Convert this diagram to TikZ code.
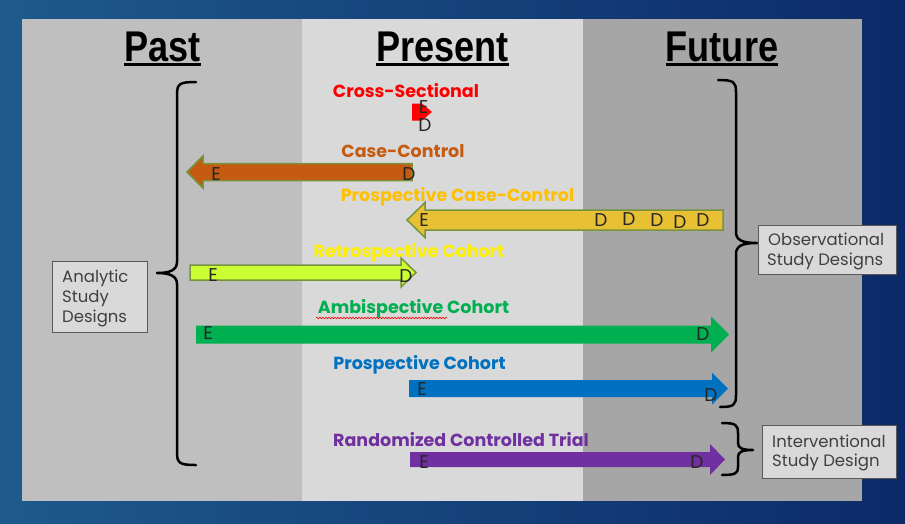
\documentclass[tikz,border=0pt]{standalone}
\usepackage{fontspec}
\usepackage{graphicx}
\usetikzlibrary{decorations.pathmorphing}
\newfontfamily\pop{Poppins}
\newfontfamily\hdr{Liberation Sans}
\definecolor{bgL}{HTML}{1E5A8C}
\definecolor{bgM}{HTML}{2C7CA0}
\definecolor{bgR}{HTML}{0C2A68}
\definecolor{colpast}{HTML}{BFBFBF}
\definecolor{colpres}{HTML}{D9D9D9}
\definecolor{colfut}{HTML}{A6A6A6}
\definecolor{olivebd}{HTML}{77933C}
\definecolor{ccbrown}{HTML}{C55A11}
\definecolor{pccgold}{HTML}{E8C033}
\definecolor{pcclabel}{HTML}{FFC000}
\definecolor{retrolime}{HTML}{CCFF33}
\definecolor{ambigreen}{HTML}{00B050}
\definecolor{pcblue}{HTML}{0070C0}
\definecolor{rctpurple}{HTML}{7030A0}
\definecolor{boxtext}{HTML}{404040}
\definecolor{boxborder}{HTML}{595959}
\definecolor{edtext}{HTML}{262626}
\newcommand\blockarr[7]{%
  \path[#7] ({#1},{#3-#4}) -- ({#2-#6},{#3-#4}) -- ({#2-#6},{#3-#5}) -- ({#2},{#3})
    -- ({#2-#6},{#3+#5}) -- ({#2-#6},{#3+#4}) -- ({#1},{#3+#4}) -- cycle;}
\tikzset{
  hdrtext/.style={anchor=base, inner sep=0pt, font=\hdr\bfseries\fontsize{43pt}{43pt}\selectfont, text=black},
  uline/.style={line width=2.5pt, black},
  studylabel/.style={anchor=base, inner sep=0pt, font=\pop\bfseries\fontsize{17.5pt}{20pt}\selectfont},
  edletter/.style={anchor=base, inner sep=0pt, font=\pop\fontsize{18.5pt}{20pt}\selectfont, text=edtext},
  sidebox/.style={draw=boxborder, line width=1pt, fill=colpres, anchor=north west, inner sep=0pt},
  boxline/.style={anchor=base west, inner sep=0pt, font=\pop\fontsize{16.5pt}{19pt}\selectfont, text=boxtext},
  bracestyle/.style={line width=2.5pt, black, line join=round, line cap=round},
  bordered/.style={draw=olivebd, line width=1.5pt, line join=miter},
}
\begin{document}
\begin{tikzpicture}[x=1pt,y=-1pt]
\useasboundingbox (0,0) rectangle (905,523);
% background
\shade[left color=bgL, middle color=bgM, right color=bgR] (0,0) rectangle (905,523);
% columns
\fill[colpast] (22,19) rectangle (302,501);
\fill[colpres] (302,19) rectangle (583,501);
\fill[colfut] (583,19) rectangle (862,501);
% headers
\node[hdrtext] (hpast) at (162.5,61) {\scalebox{0.84}[1]{Past}};
\node[hdrtext] (hpres) at (442.5,61) {\scalebox{0.84}[1]{Present}};
\node[hdrtext] (hfut) at (722,61) {\scalebox{0.84}[1]{Future}};
\draw[uline] ([yshift=-3.5pt]hpast.base west) -- ([yshift=-3.5pt]hpast.base east);
\draw[uline] ([yshift=-3.5pt]hpres.base west) -- ([yshift=-3.5pt]hpres.base east);
\draw[uline] ([yshift=-3.5pt]hfut.base west) -- ([yshift=-3.5pt]hfut.base east);
% braces
\draw[bracestyle] (196,82) .. controls (179,82) and (177,84) .. (177,95) -- (177,262)
  .. controls (177,270) and (170,273) .. (157,273) .. controls (170,273) and (177,276) .. (177,284)
  -- (177,452) .. controls (177,463) and (179,465) .. (196,465);
\draw[bracestyle] (718,80) .. controls (734,80) and (736,82) .. (736,92) -- (736,232)
  .. controls (736,240) and (742,243) .. (757,243) .. controls (742,243) and (736,246) .. (736,254)
  -- (736,395) .. controls (736,405) and (734,407) .. (720,407);
\draw[bracestyle] (722,423) .. controls (736,423) and (738,425) .. (738,433) -- (738,443)
  .. controls (738,448) and (742,450) .. (753,450) .. controls (742,450) and (738,452) .. (738,457)
  -- (738,467) .. controls (738,473) and (736,475) .. (722,475);
% side boxes
\node[sidebox, minimum width=95pt, minimum height=71pt] (analytic) at (52,261) {};
\node[boxline] (an1) at (62,282) {Analytic};
\node[boxline] (an2) at (62,302) {Study};
\node[boxline] (an3) at (62,322) {Designs};
\node[sidebox, minimum width=138pt, minimum height=49pt] (observ) at (758,225) {};
\node[boxline] (ob1) at (768,245) {Observational};
\node[boxline] (ob2) at (767,265) {Study Designs};
\node[sidebox, minimum width=134pt, minimum height=53pt] (interv) at (762,425) {};
\node[boxline] (in1) at (772,447) {Interventional};
\node[boxline] (in2) at (772,466) {Study Design};
% Cross-sectional
\node[studylabel, text=red] (lcs) at (406,97) {Cross-Sectional};
\blockarr{412}{432}{112}{8.5}{8.5}{10}{fill=red}
\node[edletter] (cse) at (423.5,113) {E};
\node[edletter] (csd) at (425,131) {D};
% Case-control
\node[studylabel, text=ccbrown] (lcc) at (403,157) {Case-Control};
\blockarr{412}{187}{172}{8.5}{16}{-16}{fill=ccbrown, bordered}
\node[edletter] (cce) at (216,180) {E};
\node[edletter] (ccd) at (409,180) {D};
% Prospective case-control
\node[studylabel, text=pcclabel] (lpcc) at (457.5,201) {Prospective Case-Control};
\blockarr{723}{407}{220}{10}{17.5}{-18}{fill=pccgold, bordered}
\node[edletter] (pcce) at (424,226) {E};
\node[edletter] (pccd1) at (601,226.5) {D};
\node[edletter] (pccd2) at (629,225) {D};
\node[edletter] (pccd3) at (657,226.5) {D};
\node[edletter] (pccd4) at (680,228) {D};
\node[edletter] (pccd5) at (703,226.5) {D};
% Retrospective cohort
\node[studylabel, text=yellow] (lrc) at (409,257) {Retrospective Cohort};
\blockarr{190}{416}{272.5}{7.5}{14.5}{15}{fill=retrolime, bordered}
\node[edletter] (rce) at (213,281) {E};
\node[edletter] (rcd) at (406,282) {D};
% Ambispective cohort
\node[studylabel, text=ambigreen] (lac) at (413.5,313) {Ambispective Cohort};
\draw[red, line width=0.6pt, decorate, decoration={snake, amplitude=0.8pt, segment length=3pt}] (316,318) -- (447,318);
\blockarr{196}{729}{334.5}{9}{18}{18}{fill=ambigreen}
\node[edletter] (ace) at (208,339) {E};
\node[edletter] (acd) at (703,340) {D};
% Prospective cohort
\node[studylabel, text=pcblue] (lpc) at (419.5,369) {Prospective Cohort};
\blockarr{409}{728}{388.5}{8.5}{16}{16}{fill=pcblue}
\node[edletter] (pce) at (422,395) {E};
\node[edletter] (pcd) at (711,401) {D};
% RCT
\node[studylabel, text=rctpurple] (lrct) at (461,446) {Randomized Controlled Trial};
\blockarr{410}{725}{459.5}{7.5}{15.5}{15}{fill=rctpurple}
\node[edletter] (rcte) at (424,468) {E};
\node[edletter] (rctd) at (697,468) {D};
\end{tikzpicture}
\end{document}
